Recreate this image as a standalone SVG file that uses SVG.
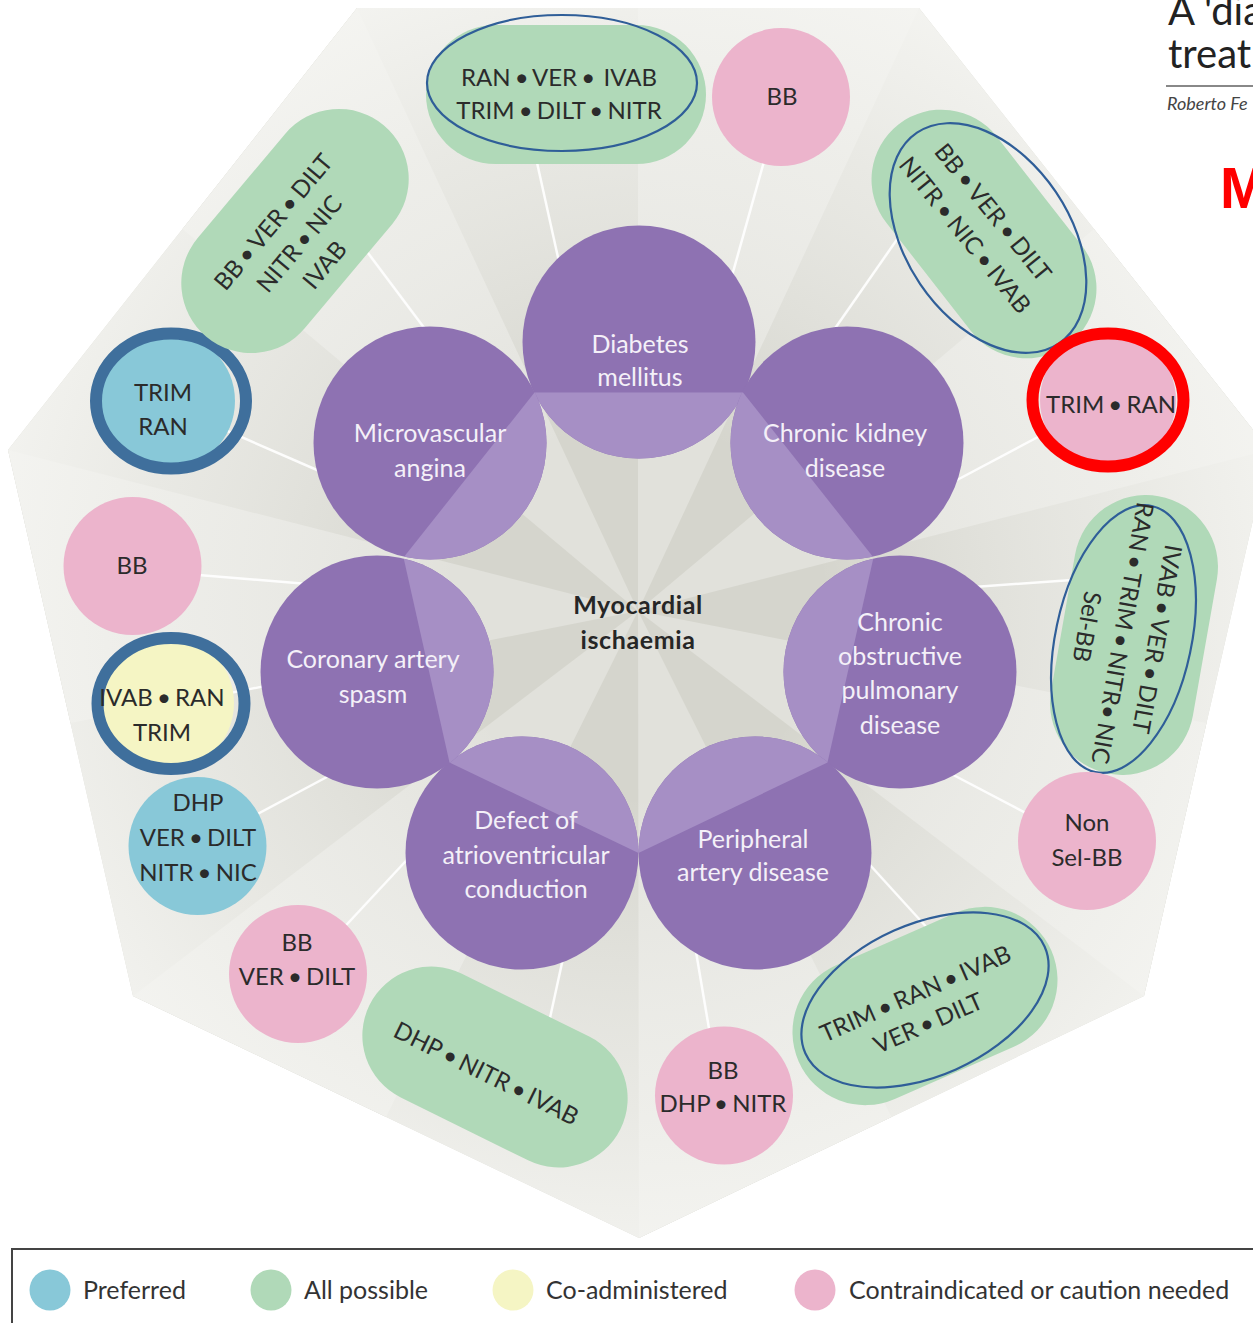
<svg xmlns="http://www.w3.org/2000/svg" width="1253" height="1323" viewBox="0 0 1253 1323">
  <defs>
    <style>
      .lbl { font-family: Lato, "Open Sans", "Liberation Sans", sans-serif; font-size: 25px; fill: #f4f0f8; text-anchor: middle; }
      .drug { font-family: Lato, "Open Sans", "Liberation Sans", sans-serif; font-size: 24px; word-spacing: -2px; fill: #2b2b2b; text-anchor: middle; }
      .hub { font-family: Lato, "Liberation Sans", sans-serif; font-size: 25px; font-weight: bold; fill: #262626; text-anchor: middle; letter-spacing: 0.6px; }
      .legend { font-family: Lato, "Open Sans", "Liberation Sans", sans-serif; font-size: 25px; fill: #333333; }
      .green { fill: #b0d9b8; }
      .pink { fill: #ecb4cc; }
      .blue { fill: #88c8d8; }
      .yellow { fill: #f5f5c4; }
      .oval { fill: none; stroke: #2f5e98; stroke-width: 2.2; }
      .ring { fill: none; stroke: #3f6f9c; stroke-width: 12; }
      .disc { fill: #8e72b2; }
      .disc-in { fill: #a68fc5; }
      .link { stroke: #ffffff; stroke-width: 2.5; stroke-opacity: 0.9; fill: none; }
      .facet-dark { fill: #d5d5cd; }
      .facet-light { fill: #e1e1db; }
    </style>
    <radialGradient id="haze" gradientUnits="userSpaceOnUse" cx="638" cy="611" r="660">
      <stop offset="0" stop-color="#ffffff" stop-opacity="0"/>
      <stop offset="0.28" stop-color="#ffffff" stop-opacity="0"/>
      <stop offset="0.75" stop-color="#f6f6f3" stop-opacity="0.6"/>
      <stop offset="1" stop-color="#f6f6f3" stop-opacity="0.9"/>
    </radialGradient>
    <!-- inner heptagon through the touching points of the disease discs -->
    <clipPath id="hubClip">
      <polygon points="743,392.5 873.5,557.5 827.5,762.5 638.5,853 449.5,762.5 403.5,557.5 534.5,392.5"/>
    </clipPath>
  </defs>

  <!-- faceted heptagon backdrop -->
  <g id="backdrop">
    <polygon class="facet-dark" points="919,8 1269,450 1144,996 639,1238 133,996 8,450 357,8"/>
    <polygon class="facet-light" points="638,611 1094,229 1269,450"/>
    <polygon class="facet-light" points="638,611 1206.5,723 1144,996"/>
    <polygon class="facet-light" points="638,611 891.5,1117 639,1238"/>
    <polygon class="facet-light" points="638,611 386,1117 133,996"/>
    <polygon class="facet-light" points="638,611 70.5,723 8,450"/>
    <polygon class="facet-light" points="638,611 182.5,229 357,8"/>
    <polygon class="facet-light" points="638,611 638,8 919,8"/>
    <polygon fill="url(#haze)" points="919,8 1269,450 1144,996 639,1238 133,996 8,450 357,8"/>
  </g>

  <!-- connectors: radial white spokes, ends hidden under the nodes -->
  <g id="connectors">
    <line class="link" x1="532" y1="140" x2="563" y2="280"/>
    <line class="link" x1="770" y1="140" x2="728" y2="290"/>
    <line class="link" x1="347" y1="225" x2="437" y2="345"/>
    <line class="link" x1="200" y1="419" x2="340" y2="480"/>
    <line class="link" x1="150" y1="571" x2="320" y2="585"/>
    <line class="link" x1="180" y1="703" x2="300" y2="679"/>
    <line class="link" x1="220" y1="834" x2="340" y2="770"/>
    <line class="link" x1="310" y1="964" x2="430" y2="835"/>
    <line class="link" x1="543" y1="1050" x2="567" y2="940"/>
    <line class="link" x1="716" y1="1070" x2="694" y2="940"/>
    <line class="link" x1="950" y1="953" x2="850" y2="843"/>
    <line class="link" x1="1060" y1="831" x2="940" y2="768"/>
    <line class="link" x1="1100" y1="578" x2="960" y2="588"/>
    <line class="link" x1="1070" y1="420" x2="940" y2="489"/>
    <line class="link" x1="914" y1="215" x2="820" y2="350"/>
  </g>

  <!-- disease discs -->
  <g id="diabetes">
    <circle class="disc" cx="639" cy="342" r="116.5"/>
    <circle class="disc-in" cx="639" cy="342" r="116.5" clip-path="url(#hubClip)"/>
    <text class="lbl" x="640" y="353">Diabetes</text>
    <text class="lbl" x="640" y="386">mellitus</text>
  </g>
  <g id="kidney">
    <circle class="disc" cx="847" cy="443" r="116.5"/>
    <circle class="disc-in" cx="847" cy="443" r="116.5" clip-path="url(#hubClip)"/>
    <text class="lbl" x="845" y="442">Chronic kidney</text>
    <text class="lbl" x="845" y="477">disease</text>
  </g>
  <g id="copd">
    <circle class="disc" cx="900" cy="672" r="116.5"/>
    <circle class="disc-in" cx="900" cy="672" r="116.5" clip-path="url(#hubClip)"/>
    <text class="lbl" x="900" y="631">Chronic</text>
    <text class="lbl" x="900" y="665">obstructive</text>
    <text class="lbl" x="900" y="699">pulmonary</text>
    <text class="lbl" x="900" y="734">disease</text>
  </g>
  <g id="peripheral">
    <circle class="disc" cx="755" cy="853" r="116.5"/>
    <circle class="disc-in" cx="755" cy="853" r="116.5" clip-path="url(#hubClip)"/>
    <text class="lbl" x="753" y="848">Peripheral</text>
    <text class="lbl" x="753" y="881">artery disease</text>
  </g>
  <g id="av-conduction">
    <circle class="disc" cx="522" cy="853" r="116.5"/>
    <circle class="disc-in" cx="522" cy="853" r="116.5" clip-path="url(#hubClip)"/>
    <text class="lbl" x="526" y="829">Defect of</text>
    <text class="lbl" x="526" y="864">atrioventricular</text>
    <text class="lbl" x="526" y="898">conduction</text>
  </g>
  <g id="spasm">
    <circle class="disc" cx="377" cy="672" r="116.5"/>
    <circle class="disc-in" cx="377" cy="672" r="116.5" clip-path="url(#hubClip)"/>
    <text class="lbl" x="373" y="668">Coronary artery</text>
    <text class="lbl" x="373" y="703">spasm</text>
  </g>
  <g id="microvascular">
    <circle class="disc" cx="430" cy="443" r="116.5"/>
    <circle class="disc-in" cx="430" cy="443" r="116.5" clip-path="url(#hubClip)"/>
    <text class="lbl" x="430" y="442">Microvascular</text>
    <text class="lbl" x="430" y="477">angina</text>
  </g>

  <g id="centre">
    <text class="hub" x="638" y="614">Myocardial</text>
    <text class="hub" x="638" y="649">ischaemia</text>
  </g>

  <!-- drug nodes -->
  <g id="dm-all">
    <rect class="green" x="426" y="25" width="280" height="139" rx="69.5"/>
    <ellipse class="oval" cx="562" cy="83" rx="135" ry="68"/>
    <text class="drug" x="559" y="86" xml:space="preserve">RAN • VER •  IVAB</text>
    <text class="drug" x="559" y="119">TRIM • DILT • NITR</text>
  </g>
  <g id="dm-caution">
    <circle class="pink" cx="781" cy="97" r="69"/>
    <text class="drug" x="782" y="105">BB</text>
  </g>
  <g id="ckd-all">
    <rect class="green" x="-139" y="-70" width="278" height="140" rx="70" transform="translate(984,234) rotate(52)"/>
    <ellipse class="oval" rx="127" ry="82" transform="translate(988,238) rotate(56)"/>
    <g transform="translate(986,236) rotate(51)">
      <text class="drug" x="-14" y="-12">BB • VER • DILT</text>
      <text class="drug" x="-14" y="24">NITR • NIC • IVAB</text>
    </g>
  </g>
  <g id="ckd-caution">
    <circle class="pink" cx="1108" cy="400" r="68"/>
    <text class="drug" x="1111" y="413">TRIM • RAN</text>
    <ellipse cx="1108" cy="400" rx="75.5" ry="66.5" fill="none" stroke="#ff0000" stroke-width="12"/>
  </g>
  <g id="copd-all">
    <rect class="green" x="-141" y="-72" width="282" height="144" rx="72" transform="translate(1134,635) rotate(100)"/>
    <ellipse class="oval" rx="136" ry="68" transform="translate(1123.5,639) rotate(102)"/>
    <g transform="translate(1134,635) rotate(100)">
      <text class="drug" x="0" y="-15">IVAB • VER • DILT</text>
      <text class="drug" x="0" y="20">RAN • TRIM • NITR• NIC</text>
      <text class="drug" x="0" y="56">Sel-BB</text>
    </g>
  </g>
  <g id="copd-caution">
    <circle class="pink" cx="1087" cy="841" r="69"/>
    <text class="drug" x="1087" y="831">Non</text>
    <text class="drug" x="1087" y="866">Sel-BB</text>
  </g>
  <g id="pad-all">
    <rect class="green" x="-138" y="-73" width="276" height="146" rx="73" transform="translate(925,1006) rotate(-23.7)"/>
    <ellipse class="oval" rx="131" ry="76" transform="translate(925,1000) rotate(-24)"/>
    <g transform="translate(925,1003) rotate(-23.7)">
      <text class="drug" x="-5" y="-4">TRIM • RAN • IVAB</text>
      <text class="drug" x="-5" y="28">VER • DILT</text>
    </g>
  </g>
  <g id="pad-caution">
    <circle class="pink" cx="724" cy="1095.5" r="69"/>
    <text class="drug" x="723" y="1079">BB</text>
    <text class="drug" x="723" y="1112">DHP • NITR</text>
  </g>
  <g id="av-all">
    <g transform="translate(495,1067) rotate(26.3)">
      <rect class="green" x="-140" y="-69" width="280" height="138" rx="69"/>
      <text class="drug" x="-5" y="18">DHP • NITR • IVAB</text>
    </g>
  </g>
  <g id="av-caution">
    <circle class="pink" cx="298" cy="974" r="69"/>
    <text class="drug" x="297" y="951">BB</text>
    <text class="drug" x="297" y="985">VER • DILT</text>
  </g>
  <g id="spasm-preferred">
    <circle class="blue" cx="197.5" cy="846" r="69"/>
    <text class="drug" x="198" y="811">DHP</text>
    <text class="drug" x="198" y="846">VER • DILT</text>
    <text class="drug" x="198" y="881">NITR • NIC</text>
  </g>
  <g id="spasm-coadmin">
    <circle class="yellow" cx="165" cy="703" r="69"/>
    <ellipse class="ring" cx="171" cy="703.5" rx="73.5" ry="65.5"/>
    <text class="drug" x="162" y="706">IVAB • RAN</text>
    <text class="drug" x="162" y="741">TRIM</text>
  </g>
  <g id="spasm-caution">
    <circle class="pink" cx="132.5" cy="566" r="69"/>
    <text class="drug" x="132" y="574">BB</text>
  </g>
  <g id="mva-preferred">
    <circle class="blue" cx="166" cy="401" r="69"/>
    <ellipse class="ring" cx="171" cy="401" rx="75" ry="67.5"/>
    <text class="drug" x="163" y="401">TRIM</text>
    <text class="drug" x="163" y="435">RAN</text>
  </g>
  <g id="mva-all">
    <g transform="translate(295,231) rotate(-50)">
      <rect class="green" x="-138" y="-70" width="276" height="140" rx="70"/>
      <text class="drug" x="-7" y="-14">BB • VER • DILT</text>
      <text class="drug" x="-7" y="20">NITR • NIC</text>
      <text class="drug" x="-7" y="53">IVAB</text>
    </g>
  </g>

  <!-- heading fragment at the top right -->
  <g id="heading">
    <text x="1168" y="25" font-family="Lato, 'Open Sans', sans-serif" font-size="40" fill="#222222">A 'dia</text>
    <text x="1168" y="68" font-family="Lato, 'Open Sans', sans-serif" font-size="40" fill="#222222">treat</text>
    <line x1="1166" y1="86" x2="1253" y2="86" stroke="#888888" stroke-width="2"/>
    <text x="1167" y="110" font-family="Lato, 'Open Sans', sans-serif" font-size="18" font-style="italic" fill="#444444">Roberto Fe</text>
    <text x="1220" y="208" font-family="'Liberation Sans', Arial, sans-serif" font-size="57" font-weight="bold" fill="#ff0000">M</text>
  </g>

  <!-- legend -->
  <g id="legend">
    <path d="M12,1323 V1249 H1253" fill="none" stroke="#444444" stroke-width="2"/>
    <circle cx="50" cy="1290" r="20.5" fill="#88c8d8"/>
    <text class="legend" x="83" y="1299">Preferred</text>
    <circle cx="271" cy="1290" r="20.5" fill="#b0d9b8"/>
    <text class="legend" x="304" y="1299">All possible</text>
    <circle cx="513" cy="1290" r="20.5" fill="#f5f5c4"/>
    <text class="legend" x="546" y="1299">Co-administered</text>
    <circle cx="815" cy="1290" r="20.5" fill="#ecb4cc"/>
    <text class="legend" x="849" y="1299">Contraindicated or caution needed</text>
  </g>
</svg>
